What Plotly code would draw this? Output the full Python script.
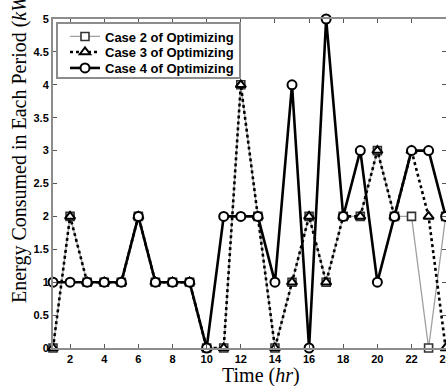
import plotly.graph_objects as go

hours = list(range(1, 25))
case2 = [0, 2, 1, 1, 1, 2, 1, 1, 1, 0, 0, 4, 2, 0, 1, 2, 1, 2, 2, 3, 2, 2, 0, 2]
case3 = [0, 2, 1, 1, 1, 2, 1, 1, 1, 0, 0, 4, 2, 0, 1, 2, 1, 2, 2, 3, 2, 3, 2, 0]
case4 = [1, 1, 1, 1, 1, 2, 1, 1, 1, 0, 2, 2, 2, 1, 4, 0, 5, 2, 3, 1, 2, 3, 3, 2]
names = ["Case 2 of Optimizing", "Case 3 of Optimizing", "Case 4 of Optimizing"]
x_ticks = list(range(2, 25, 2))
y_ticks = [0, 0.5, 1, 1.5, 2, 2.5, 3, 3.5, 4, 4.5, 5]
y_tick_text = ["0", "0.5", "1", "1.5", "2", "2.5", "3", "3.5", "4", "4.5", "5"]

W, H = 446, 386
ML, MR, MT, MB = 53, 0, 19, 38
PW, PH = W - ML - MR, H - MT - MB

def px_x(p):
    return (p - ML) / PW

def px_y(p):
    return (H - MB - p) / PH

fig = go.Figure()
fig.add_trace(go.Scatter(
    x=hours, y=case2, name=names[0], mode="lines+markers", cliponaxis=False,
    legend="legend",
    line=dict(color="#a0a0a0", width=1.3),
    marker=dict(symbol="square", size=8, color="white", line=dict(color="#333333", width=1.6)),
))
fig.add_trace(go.Scatter(
    x=hours, y=case3, name=names[1], mode="lines+markers", cliponaxis=False,
    legend="legend2",
    line=dict(color="black", width=2.6, dash="dot"),
    marker=dict(symbol="triangle-up", size=9, color="white", line=dict(color="black", width=2)),
))
fig.add_trace(go.Scatter(
    x=hours, y=case4, name=names[2], mode="lines+markers", cliponaxis=False,
    legend="legend3",
    line=dict(color="black", width=2.6),
    marker=dict(symbol="circle", size=9, color="white", line=dict(color="black", width=2)),
))

tickfont = dict(family="Liberation Sans, Arial", size=11, color="black", weight="bold")
legfont = dict(family="Liberation Sans, Arial", size=13, color="black", weight="bold")

def leg(row_y):
    return dict(x=px_x(65), y=px_y(row_y), xanchor="left", yanchor="middle",
                bgcolor="rgba(0,0,0,0)", borderwidth=0, font=legfont, itemwidth=30)

fig.update_layout(
    width=W, height=H,
    margin=dict(l=ML, r=MR, t=MT, b=MB, autoexpand=False),
    plot_bgcolor="white", paper_bgcolor="white",
    showlegend=True,
    legend=leg(36.5),
    legend2=leg(52),
    legend3=leg(68),
    xaxis=dict(
        range=[1, 24.02], tickvals=x_ticks, ticks="inside", ticklen=4, tickwidth=1,
        tickcolor="#555555", showline=True, linecolor="#8c8c8c", linewidth=2,
        mirror="ticks", showgrid=False, zeroline=False, tickfont=tickfont,
        automargin=False, ticklabeloverflow="allow",
    ),
    yaxis=dict(
        range=[0, 5], tickvals=y_ticks, ticktext=y_tick_text, ticks="inside", ticklen=4,
        tickwidth=1, tickcolor="#555555", showline=True, linecolor="#8c8c8c", linewidth=2,
        mirror="ticks", showgrid=False, zeroline=False, tickfont=tickfont,
        automargin=False, ticklabeloverflow="allow",
    ),
    shapes=[
        dict(type="rect", xref="paper", yref="paper", layer="above",
             x0=px_x(57), x1=px_x(240), y0=px_y(78), y1=px_y(23),
             fillcolor="white", line=dict(color="#8c8c8c", width=2)),
    ],
    annotations=[
        dict(text="Energy Consumed in Each Period (<i>kW</i>)", textangle=-90,
             xref="paper", yref="paper", x=px_x(19), y=px_y(146),
             xanchor="center", yanchor="middle", showarrow=False,
             font=dict(family="Liberation Serif, Times New Roman", size=20, color="black")),
        dict(text="Time (<i>hr</i>)",
             xref="paper", yref="paper", x=px_x(261), y=px_y(376),
             xanchor="center", yanchor="middle", showarrow=False,
             font=dict(family="Liberation Serif, Times New Roman", size=20, color="black")),
    ],
)

fig.write_html("out.html")
